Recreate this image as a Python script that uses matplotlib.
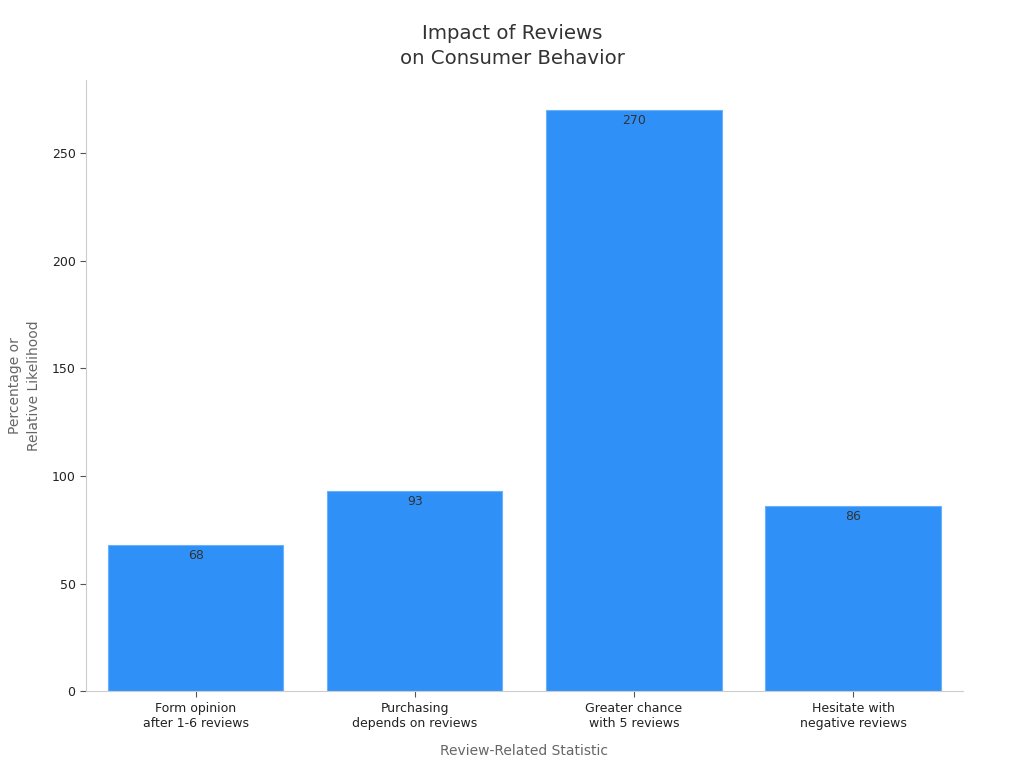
import matplotlib.pyplot as plt
import numpy as np

plt.rcParams['font.family'] = ['DejaVu Sans']

categories = ["Form opinion\nafter 1-6 reviews", "Purchasing\ndepends on reviews",
              "Greater chance\nwith 5 reviews", "Hesitate with\nnegative reviews"]
values = [68, 93, 270, 86]

fig = plt.figure(figsize=(10.24, 7.68), dpi=100)
ax = fig.add_axes([0.084, 0.100, 0.856, 0.796])

x = np.arange(len(categories))
bars = ax.bar(x, values, width=0.8, color='#2F91F8', edgecolor='#6BB0FA', linewidth=0.8)

for xi, v in zip(x, values):
    ax.text(xi, v - 2, str(v), ha='center', va='top', fontsize=9, color='#333333')

ax.set_xlim(-0.5, 3.5)
ax.set_ylim(0, 284)
ax.set_yticks([0, 50, 100, 150, 200, 250])
ax.set_xticks(x)
ax.set_xticklabels(categories, fontsize=9, color='#222222')
ax.tick_params(axis='y', labelsize=9, labelcolor='#222222', color='#555555', length=4)
ax.tick_params(axis='x', color='#555555', length=4)

for s in ['top', 'right']:
    ax.spines[s].set_visible(False)
for s in ['left', 'bottom']:
    ax.spines[s].set_color('#cccccc')

ax.set_xlabel("Review-Related Statistic", fontsize=10, color='#666666', labelpad=10)
ax.set_ylabel("Percentage or\nRelative Likelihood", fontsize=10, color='#666666',
              labelpad=8, linespacing=1.45)
fig.text(0.5, 0.911, "Impact of Reviews\non Consumer Behavior", fontsize=14.2,
         color='#333333', ha='center', va='bottom', linespacing=1.4)

plt.savefig("out.png", dpi=100)
